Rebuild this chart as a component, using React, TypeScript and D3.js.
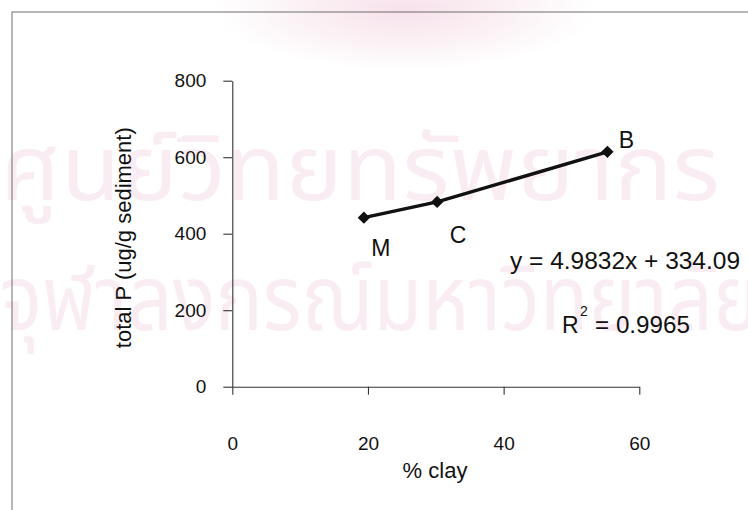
import * as d3 from "d3";
import React, { useEffect, useRef } from "react";

// % clay and total P for the three sites
const sites = ["M", "C", "B"];
const clay = [19.4, 30.2, 55.3];
const totalP = [442, 483, 614];

const xTicks = [0, 20, 40, 60];
const yTicks = [0, 200, 400, 600, 800];

const equation = "y = 4.9832x + 334.09";
const rSquared = "= 0.9965";

const W = 748;
const H = 510;
const margin = { top: 80.7, right: 108.7, bottom: 123.3, left: 232.3 };
const FONT = "'Liberation Sans', Arial, sans-serif";

const App: React.FC = () => {
  const svgRef = useRef<SVGSVGElement>(null);

  useEffect(() => {
    const svg = d3.select(svgRef.current);
    svg.selectAll("*").remove();

    // faint background: pink glow and watermark
    const defs = svg.append("defs");
    const grad = defs
      .append("radialGradient")
      .attr("id", "glow");
    grad.append("stop").attr("offset", "0%").attr("stop-color", "#f7e1ea");
    grad.append("stop").attr("offset", "100%").attr("stop-color", "#ffffff");
    svg
      .append("ellipse")
      .attr("cx", 405)
      .attr("cy", 10)
      .attr("rx", 190)
      .attr("ry", 60)
      .attr("fill", "url(#glow)");

    const wm = svg
      .append("g")
      .attr("fill", "#f9edf3")
      .style("font-family", "'Noto Sans Thai', 'DejaVu Sans', sans-serif")
      .style("font-size", "92px");
    wm.append("text")
      .attr("x", 0)
      .attr("y", 200)
      .attr("textLength", 720)
      .attr("lengthAdjust", "spacingAndGlyphs")
      .text("ศูนย์วิทยทรัพยากร");
    wm.append("text")
      .attr("x", 0)
      .attr("y", 330)
      .attr("textLength", 760)
      .attr("lengthAdjust", "spacingAndGlyphs")
      .text("จุฬาลงกรณ์มหาวิทยาลัย");

    // outer frame
    svg
      .append("rect")
      .attr("x", 12)
      .attr("y", 12)
      .attr("width", W)
      .attr("height", H)
      .attr("fill", "none")
      .attr("stroke", "#6e6e6e")
      .attr("stroke-width", 1);

    const x = d3
      .scaleLinear()
      .domain([0, 60])
      .range([margin.left, W - margin.right]);
    const y = d3
      .scaleLinear()
      .domain([0, 800])
      .range([H - margin.bottom, margin.top]);

    const xAxis = svg
      .append("g")
      .attr("transform", `translate(0,${H - margin.bottom})`)
      .call(
        d3
          .axisBottom(x)
          .tickValues(xTicks)
          .tickSize(8)
          .tickSizeOuter(0)
          .tickPadding(42)
          .tickFormat(d3.format("d"))
      );
    const yAxis = svg
      .append("g")
      .attr("transform", `translate(${margin.left},0)`)
      .call(
        d3
          .axisLeft(y)
          .tickValues(yTicks)
          .tickSize(9)
          .tickSizeOuter(0)
          .tickPadding(17)
          .tickFormat(d3.format("d"))
      );
    [xAxis, yAxis].forEach((g) => {
      g.selectAll("path, line").attr("stroke", "#333").attr("stroke-width", 1.1);
      g.selectAll("text")
        .attr("fill", "#111")
        .style("font-family", "'Liberation Sans Narrow', 'Arial Narrow', " + FONT)
        .style("font-size", "19px");
    });

    // axis titles
    svg
      .append("text")
      .attr("transform", `translate(${125 + 6},${(margin.top + H - margin.bottom) / 2 + 4}) rotate(-90)`)
      .attr("text-anchor", "middle")
      .attr("fill", "#111")
      .style("font-family", FONT)
      .style("font-size", "22px")
      .text("total P (ug/g sediment)");
    svg
      .append("text")
      .attr("x", 435)
      .attr("y", 478)
      .attr("text-anchor", "middle")
      .attr("fill", "#111")
      .style("font-family", FONT)
      .style("font-size", "22px")
      .text("% clay");

    // line + markers
    const pts = clay.map((c, i) => [c, totalP[i]] as [number, number]);
    const line = d3
      .line<[number, number]>()
      .x((d) => x(d[0]))
      .y((d) => y(d[1]));
    svg
      .append("path")
      .attr("d", line(pts))
      .attr("fill", "none")
      .attr("stroke", "#111")
      .attr("stroke-width", 3.4);

    const sym = d3.symbol().type(d3.symbolSquare).size(76);
    svg
      .append("g")
      .selectAll("path")
      .data(pts)
      .join("path")
      .attr("d", sym)
      .attr("transform", (d) => `translate(${x(d[0])},${y(d[1])}) rotate(45)`)
      .attr("fill", "#111");

    // point labels
    const labelOffset: Record<string, [number, number]> = {
      M: [17, 38],
      C: [21, 41],
      B: [19, -4],
    };
    svg
      .append("g")
      .selectAll("text")
      .data(pts)
      .join("text")
      .attr("x", (d, i) => x(d[0]) + labelOffset[sites[i]][0])
      .attr("y", (d, i) => y(d[1]) + labelOffset[sites[i]][1])
      .attr("text-anchor", "middle")
      .attr("fill", "#111")
      .style("font-family", FONT)
      .style("font-size", "23px")
      .text((_, i) => sites[i]);

    // regression annotation
    const eq = svg
      .append("g")
      .attr("fill", "#111")
      .style("font-family", FONT);
    eq.append("text")
      .attr("x", 510)
      .attr("y", 269)
      .attr("textLength", 230)
      .attr("lengthAdjust", "spacingAndGlyphs")
      .style("font-size", "23px")
      .text(equation);
    eq.append("text")
      .attr("x", 562)
      .attr("y", 333)
      .style("font-size", "23px")
      .text("R");
    eq.append("text")
      .attr("x", 580)
      .attr("y", 316)
      .style("font-size", "14px")
      .text("2");
    eq.append("text")
      .attr("x", 595)
      .attr("y", 333)
      .attr("textLength", 95)
      .attr("lengthAdjust", "spacingAndGlyphs")
      .style("font-size", "23px")
      .text(rSquared);
  }, []);

  return (
    <svg
      ref={svgRef}
      width={W}
      height={H}
      style={{ position: "absolute", left: 0, top: 0, background: "#fff" }}
    />
  );
};

export default App;
